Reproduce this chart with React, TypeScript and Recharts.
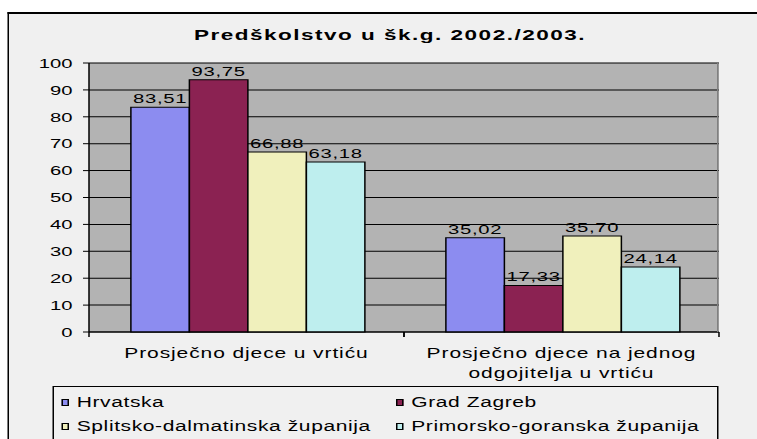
import React from 'react';
import { BarChart, Bar, XAxis, YAxis, CartesianGrid, LabelList } from 'recharts';

// the original Excel chart is stretched horizontally, so everything is drawn narrow and scaled in x
const SX = 1.5;
const W = 757 / SX;
const H = 439;
const PLOT_LEFT = 89 / SX;
const PLOT_RIGHT = 719 / SX;
const PLOT_TOP = 63;
const PLOT_BOTTOM = 332;
const FONT = '"Liberation Sans", Arial, sans-serif';

const title = 'Predškolstvo u šk.g. 2002./2003.';
const categories = ['Prosječno djece u vrtiću', 'Prosječno djece na jednog odgojitelja u vrtiću'];
const categoryLines = [['Prosječno djece u vrtiću'], ['Prosječno djece na jednog', 'odgojitelja u vrtiću']];
const seriesNames = ['Hrvatska', 'Grad Zagreb', 'Splitsko-dalmatinska županija', 'Primorsko-goranska županija'];
const seriesColors = ['#8C8CF0', '#8B2252', '#F0F0BC', '#BEEEEE'];
const hrvatska = [83.51, 35.02];
const zagreb = [93.75, 17.33];
const split = [66.88, 35.7];
const primorje = [63.18, 24.14];
const yTicks = [0, 10, 20, 30, 40, 50, 60, 70, 80, 90, 100];

const data = categories.map((c, i) => ({
  name: c,
  s0: hrvatska[i],
  s1: zagreb[i],
  s2: split[i],
  s3: primorje[i],
}));

const fmt = (v: any) => (typeof v === 'number' ? v.toFixed(2).replace('.', ',') : v);

const HALF_BAND = (PLOT_RIGHT - PLOT_LEFT) / categories.length / 2;

const CatTick = (props: any) => {
  const { x, y, payload } = props;
  const lines = categoryLines[payload.index] || [payload.value];
  return (
    <g>
      <line x1={x - HALF_BAND} x2={x - HALF_BAND} y1={y} y2={y + 5} stroke="#000" />
      <line x1={x + HALF_BAND} x2={x + HALF_BAND} y1={y} y2={y + 5} stroke="#000" />
      <text x={x} y={y + 26} textAnchor="middle" fontSize={14} fill="#000" fontFamily={FONT} letterSpacing={0.6}>
        {lines.map((l, i) => (
          <tspan key={i} x={x} dy={i ? 20 : 0}>
            {l}
          </tspan>
        ))}
      </text>
    </g>
  );
};

const legendColWidths = [223, 208];

export default function App() {
  return (
    <div style={{ position: 'absolute', left: 0, top: 0, width: 757, height: H, overflow: 'hidden', background: '#fff' }}>
      <div style={{ position: 'relative', width: W, height: H, transform: `scaleX(${SX})`, transformOrigin: '0 0' }}>
        <div
          style={{
            position: 'absolute',
            left: 7 / SX,
            top: 12,
            width: W,
            height: H,
            borderTop: '2px solid #000',
            borderLeft: `${2 / SX}px solid #000`,
            background: '#F0F0F0',
          }}
        />
        <div
          style={{
            position: 'absolute',
            left: 0,
            top: 26,
            width: 520,
            textAlign: 'center',
            fontFamily: FONT,
            fontWeight: 'bold',
            fontSize: 15,
            lineHeight: '18px',
            letterSpacing: 1,
            color: '#000',
          }}
        >
          {title}
        </div>
        <div style={{ position: 'absolute', left: 0, top: 0 }}>
          <BarChart
            width={W}
            height={H}
            data={data}
            margin={{ top: PLOT_TOP, right: W - PLOT_RIGHT, bottom: H - PLOT_BOTTOM - 50, left: 0 }}
            barCategoryGap="13.3%"
            barGap={0}
          >
            <CartesianGrid vertical={false} fill="#B3B3B3" stroke="#000" strokeOpacity={1} fillOpacity={1} />
            <XAxis
              dataKey="name"
              height={50}
              axisLine={{ stroke: '#000' }}
              tickLine={false}
              tickSize={0}
              tickMargin={0}
              interval={0}
              tick={<CatTick />}
            />
            <YAxis
              width={PLOT_LEFT}
              domain={[0, 100]}
              ticks={yTicks}
              interval={0}
              axisLine={{ stroke: '#000' }}
              tickLine={{ stroke: '#000' }}
              tickSize={4}
              tickMargin={7}
              tick={{ fill: '#000', fontSize: 13.5, fontFamily: FONT }}
            />
            {['s0', 's1', 's2', 's3'].map((k, i) => (
              <Bar
                key={k}
                dataKey={k}
                name={seriesNames[i]}
                fill={seriesColors[i]}
                stroke="#000"
                strokeWidth={1}
                isAnimationActive={false}
              >
                <LabelList
                  dataKey={k}
                  position="top"
                  offset={4}
                  formatter={fmt}
                  fill="#000"
                  fontSize={13.5}
                  fontFamily={FONT}
                  letterSpacing={0.5}
                />
              </Bar>
            ))}
          </BarChart>
        </div>
        {/* plot frame on the right */}
        <div
          style={{
            position: 'absolute',
            left: PLOT_RIGHT - 2 / SX,
            top: PLOT_TOP,
            width: 2 / SX,
            height: PLOT_BOTTOM - PLOT_TOP,
            background: '#808080',
          }}
        />
        <div
          style={{
            position: 'absolute',
            left: 52 / SX,
            top: 386,
            width: PLOT_RIGHT - 52 / SX,
            height: 80,
            boxSizing: 'border-box',
            border: '1px solid #000',
            borderLeftWidth: 1 / SX,
            borderRightWidth: 1 / SX,
            background: '#F0F0F0',
            paddingTop: 3,
            paddingLeft: 5,
            display: 'flex',
            flexWrap: 'wrap',
            alignContent: 'flex-start',
            fontFamily: FONT,
            fontSize: 14,
            letterSpacing: 0.4,
            color: '#000',
          }}
        >
          {seriesNames.map((n, i) => (
            <div
              key={n}
              style={{ width: legendColWidths[i % 2], height: 24, display: 'flex', alignItems: 'center', flexShrink: 0 }}
            >
              <span
                style={{
                  display: 'inline-block',
                  width: 5.5,
                  height: 7,
                  boxSizing: 'border-box',
                  border: '1px solid #000',
                  borderLeftWidth: 1 / SX,
                  borderRightWidth: 1 / SX,
                  background: seriesColors[i],
                  marginRight: 5,
                  flexShrink: 0,
                }}
              />
              <span style={{ whiteSpace: 'nowrap' }}>{n}</span>
            </div>
          ))}
        </div>
      </div>
    </div>
  );
}
